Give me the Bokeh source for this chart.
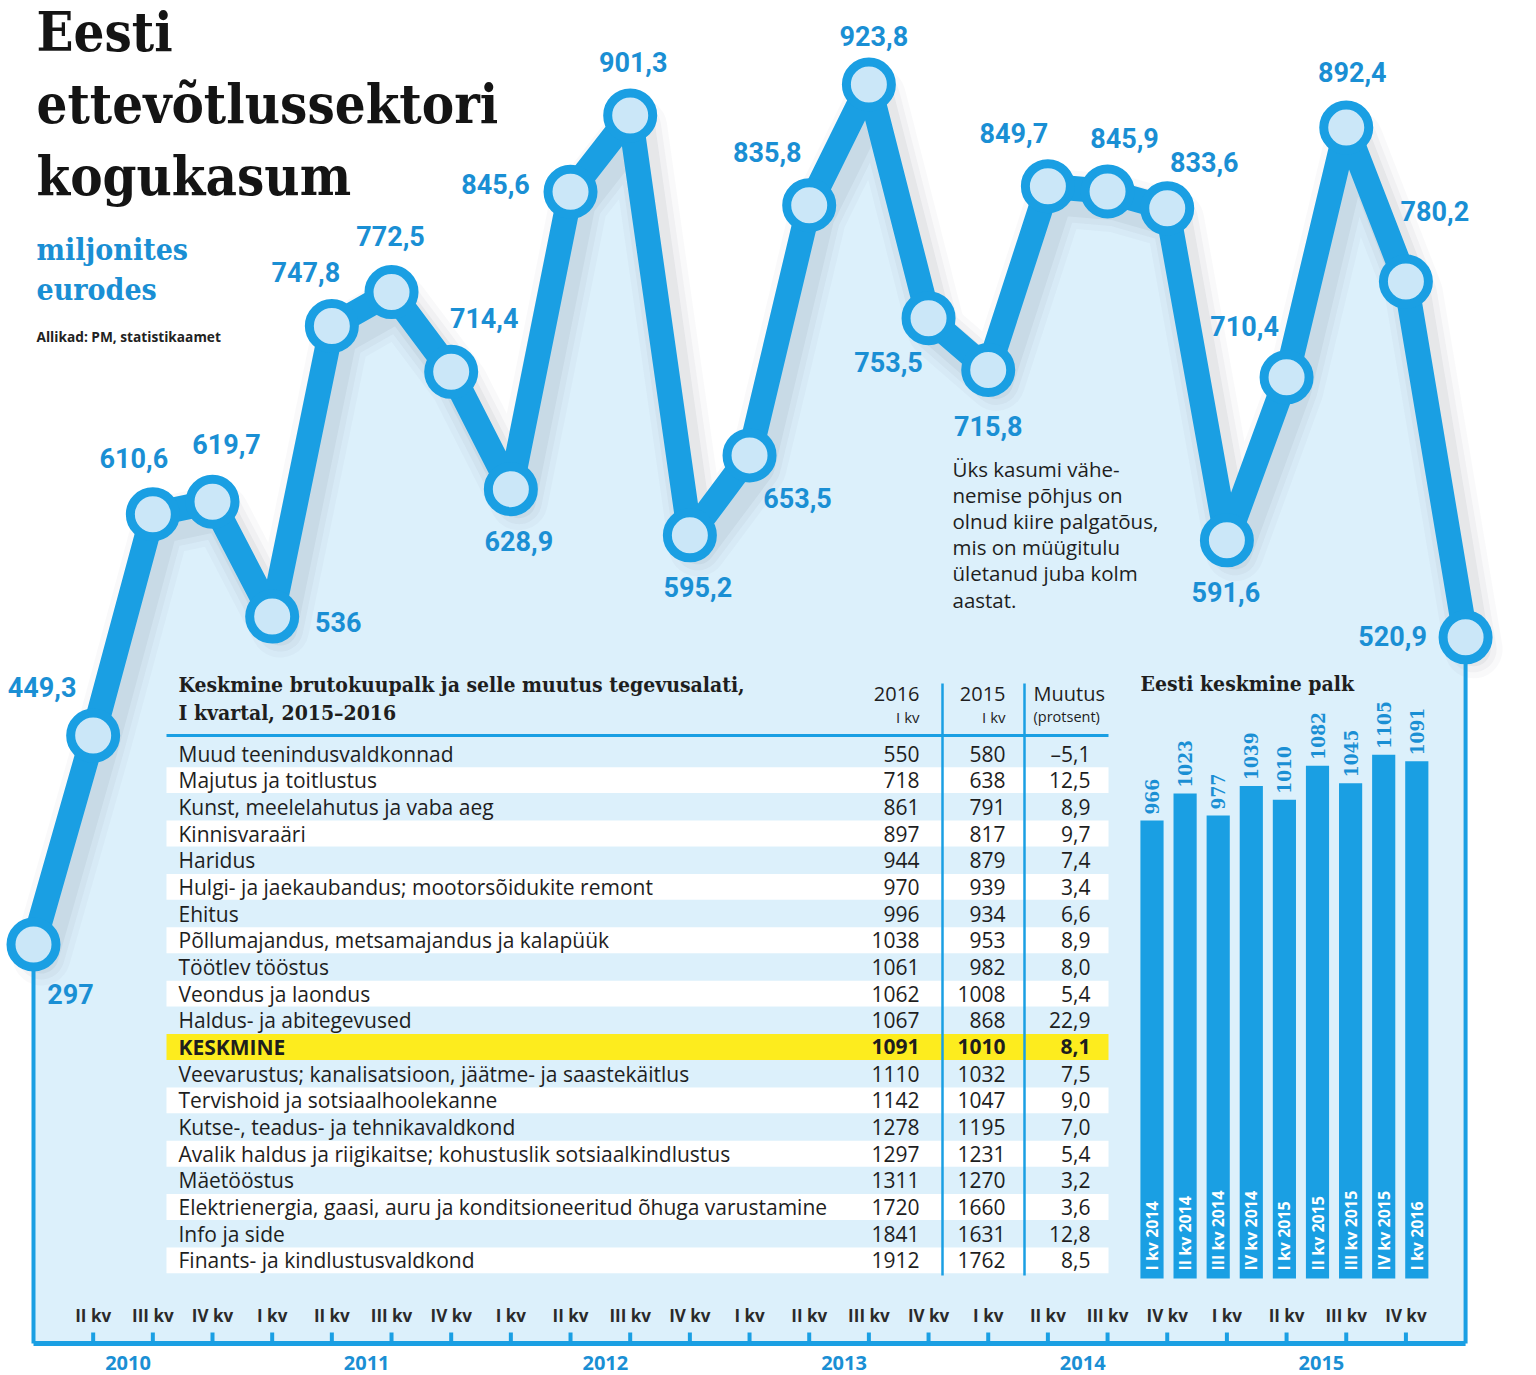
import math
from bokeh.plotting import figure
from bokeh.models import Range1d, ColumnDataSource
from bokeh.core.properties import value
from bokeh.embed import file_html
from bokeh.resources import INLINE

# ---------------- data ----------------
quarter_names = ["I kv", "II kv", "III kv", "IV kv"]
years = ["2010", "2011", "2012", "2013", "2014", "2015"]
profit = [297, 449.3, 610.6, 619.7, 536, 747.8, 772.5, 714.4, 628.9, 845.6,
          901.3, 595.2, 653.5, 835.8, 923.8, 753.5, 715.8, 849.7, 845.9, 833.6,
          591.6, 710.4, 892.4, 780.2, 520.9]

sectors = ["Muud teenindusvaldkonnad", "Majutus ja toitlustus",
           "Kunst, meelelahutus ja vaba aeg", "Kinnisvaraäri", "Haridus",
           "Hulgi- ja jaekaubandus; mootorsõidukite  remont", "Ehitus",
           "Põllumajandus, metsamajandus ja kalapüük", "Töötlev tööstus",
           "Veondus ja laondus", "Haldus- ja abitegevused", "KESKMINE",
           "Veevarustus; kanalisatsioon, jäätme- ja saastekäitlus",
           "Tervishoid ja sotsiaalhoolekanne", "Kutse-, teadus- ja tehnikavaldkond",
           "Avalik haldus ja riigikaitse; kohustuslik sotsiaalkindlustus",
           "Mäetööstus",
           "Elektrienergia, gaasi, auru ja konditsioneeritud õhuga varustamine",
           "Info ja side", "Finants- ja kindlustusvaldkond"]
wage_2016 = [550, 718, 861, 897, 944, 970, 996, 1038, 1061, 1062, 1067, 1091,
             1110, 1142, 1278, 1297, 1311, 1720, 1841, 1912]
wage_2015 = [580, 638, 791, 817, 879, 939, 934, 953, 982, 1008, 868, 1010,
             1032, 1047, 1195, 1231, 1270, 1660, 1631, 1762]
change_pct = [-5.1, 12.5, 8.9, 9.7, 7.4, 3.4, 6.6, 8.9, 8.0, 5.4, 22.9, 8.1,
              7.5, 9.0, 7.0, 5.4, 3.2, 3.6, 12.8, 8.5]

bar_quarters = ["I kv 2014", "II kv 2014", "III kv 2014", "IV kv 2014",
                "I kv 2015", "II kv 2015", "III kv 2015", "IV kv 2015",
                "I kv 2016"]
avg_wage = [966, 1023, 977, 1039, 1010, 1082, 1045, 1105, 1091]

# ---------------- styling / layout constants ----------------
W, H = 1536, 1375
OFF = 0
BLUE = "#1a9fe3"
LABEL_BLUE = "#1a8fd4"
AREA = "#dcf0fb"
MARKER_FILL = "#cbe7f8"
DARK = "#1e1e1e"

X0, DX = 33.0, 59.67          # screen x of first quarter and spacing
Y0, KY = 944.0, 1.372          # screen y of value 297 and px per unit
V0 = 297.0
def xr(px):
    return (px - X0) / DX
def yr(py):
    return V0 + (Y0 - py) / KY

BASE = yr(1343)                # axis baseline value

# label offsets (screen px) for each profit label
lab_dx = [37, -51, -19, 14, 66, -26, -1, 33, 8, -75, 3, 8, 48, -42, 5, -40, 0,
          -34, 17, 37, -1, -42, 6, 29, -73]
lab_dy = [49, -49, -56, -58, 5, -54, -56, -54, 52, -8, -53, 52, 43, -53, -49,
          44, 56, -53, -53, -46, 52, -51, -56, -71, -1]

p = figure(width=W, height=H, output_backend="svg", toolbar_location=None,
           x_range=Range1d(xr(OFF), xr(OFF + W)), y_range=Range1d(yr(OFF + H), yr(OFF)),
           x_axis_type=None, y_axis_type=None, min_border=0)
p.grid.visible = False
p.outline_line_color = None
p.background_fill_color = "white"
p.border_fill_color = "white"

# screen-like ranges for layout text, table rows, bar chart
ROW0, ROWH = 753.0, 26.68
BX0, BDX = 1151.5, 33.1
BZ, BK = 1278.0, 0.474
p.extra_x_ranges = {
    "px": Range1d(OFF, OFF + W),
    "bx": Range1d((OFF - BX0) / BDX, (OFF + W - BX0) / BDX),
}
p.extra_y_ranges = {
    "py": Range1d(OFF + H, OFF),
    "tbl": Range1d((OFF + H - ROW0) / ROWH, (OFF - ROW0) / ROWH),
    "by": Range1d((BZ - (OFF + H)) / BK, (BZ - OFF) / BK),
}

idx = list(range(len(profit)))

# area under the line
p.varea(x=idx, y1=[BASE] * len(idx), y2=profit, fill_color=AREA)

# drop shadow of the line
sdx, sdy = 8 / DX, 12 / KY
for w, a in [(58, 0.04), (46, 0.05), (34, 0.07)]:
    p.line([i + sdx for i in idx], [v - sdy for v in profit], line_width=w,
           line_color="#5a6a78", line_alpha=a, line_join="round", line_cap="round")

# ---------------- table ----------------
rows = list(range(len(sectors)))
white_rows = [r for r in rows if r % 2 == 1 and sectors[r] != "KESKMINE"]
p.rect(x=[637] * len(white_rows), y=white_rows, width=942, height=0.97,
       x_range_name="px", y_range_name="tbl", fill_color="white", line_color=None)
hl = [r for r in rows if sectors[r] == "KESKMINE"]
p.rect(x=[637] * len(hl), y=hl, width=942, height=0.97,
       x_range_name="px", y_range_name="tbl", fill_color="#fdec1e", line_color=None)

# header line & column lines
p.segment(x0=[166], y0=[735], x1=[1108], y1=[735], x_range_name="px",
          y_range_name="py", line_color=BLUE, line_width=3)
p.segment(x0=[942, 1024], y0=[683, 683], x1=[942, 1024], y1=[1275, 1275],
          x_range_name="px", y_range_name="py", line_color=BLUE, line_width=2.5)

BODY = value("Open Sans")
SERIF = value("DejaVu Serif Condensed, DejaVu Serif")

def fmt_pct(c):
    return f"{c:.1f}".replace(".", ",").replace("-", "–")

normal = [r for r in rows if sectors[r] != "KESKMINE"]
def table_source(sel):
    return ColumnDataSource(dict(
        r=sel,
        name=[sectors[r] for r in sel],
        a=[str(wage_2016[r]) for r in sel],
        b=[str(wage_2015[r]) for r in sel],
        c=[fmt_pct(change_pct[r]) for r in sel],
    ))
for src, style in [(table_source(normal), "normal"), (table_source(hl), "bold")]:
    common = dict(source=src, y="r", x_range_name="px", y_range_name="tbl",
                  text_font=BODY, text_font_size="21px", text_color=DARK,
                  text_baseline="middle", text_font_style=style)
    p.text(x=178, text="name", text_align="left", **common)
    p.text(x=919, text="a", text_align="right", **common)
    p.text(x=1005, text="b", text_align="right", **common)
    p.text(x=1090, text="c", text_align="right", **common)

# free texts (y = visual centre line in screen px)
def ptext(x, y, t, size, font=BODY, style="normal", color=DARK, align="left"):
    p.text(x=[x], y=[y], text=[t], x_range_name="px", y_range_name="py",
           text_font=font, text_font_size=size, text_font_style=style,
           text_color=color, text_align=align, text_baseline="middle")

ptext(178, 684, "Keskmine brutokuupalk ja selle muutus tegevusalati,", "21px",
      font=SERIF, style="bold")
ptext(178, 712, "I kvartal, 2015–2016", "21px", font=SERIF, style="bold")
ptext(919, 693, "2016", "20px", align="right")
ptext(919, 716, "I kv", "15px", align="right")
ptext(1005, 693, "2015", "20px", align="right")
ptext(1005, 716, "I kv", "15px", align="right")
ptext(1033, 693, "Muutus", "20px")
ptext(1033, 716, "(protsent)", "14.5px")

# ---------------- bar chart ----------------
bidx = list(range(len(avg_wage)))
bsrc = ColumnDataSource(dict(x=bidx, top=avg_wage,
                             lab=[str(v) for v in avg_wage], q=bar_quarters,
                             zero=[0] * len(bidx)))
p.vbar(x="x", top="top", bottom=0, width=0.7, source=bsrc, x_range_name="bx",
       y_range_name="by", fill_color=BLUE, line_color=None)
p.text(x="x", y="top", text="lab", source=bsrc, x_range_name="bx",
       y_range_name="by", angle=math.pi / 2, y_offset=-6, text_align="left",
       text_baseline="middle", text_font=SERIF, text_font_style="bold",
       text_font_size="19px", text_color=LABEL_BLUE)
p.text(x="x", y="zero", text="q", source=bsrc, x_range_name="bx",
       y_range_name="by", angle=math.pi / 2, y_offset=-8, text_align="left",
       text_baseline="middle", text_font=BODY, text_font_style="bold",
       text_font_size="16px", text_color="white")
ptext(1140, 683, "Eesti keskmine palk", "21px", font=SERIF, style="bold")

# ---------------- frame of area, axis, ticks ----------------
n = len(profit)
p.line([0, 0], [profit[0], BASE], line_color=BLUE, line_width=4)
p.line([n - 1, n - 1], [profit[-1], BASE], line_color=BLUE, line_width=4)
p.line([0, n - 1], [BASE, BASE], line_color=BLUE, line_width=5)
tick_i = list(range(1, n - 1))
p.segment(x0=tick_i, y0=[BASE] * len(tick_i), x1=tick_i,
          y1=[BASE + 11 / KY] * len(tick_i), line_color=BLUE, line_width=4)

qlabels = [quarter_names[i % 4] for i in tick_i]
p.text(x=tick_i, y=[BASE] * len(tick_i), text=qlabels, y_offset=-28,
       text_align="center", text_baseline="middle", text_font=BODY,
       text_font_style="bold", text_font_size="17px", text_color="#2a2a2a")
year_x = [4 * k + 1.5 for k in range(len(years))]
p.text(x=year_x, y=[BASE] * len(years), text=years, x_offset=5, y_offset=19,
       text_align="center", text_baseline="middle", text_font=BODY,
       text_font_size="20px", text_font_style="bold", text_color=LABEL_BLUE)

# ---------------- main line ----------------
p.line(idx, profit, line_color=BLUE, line_width=25, line_join="round",
       line_cap="round")
p.scatter(idx, profit, size=45, fill_color=MARKER_FILL, line_color=BLUE,
          line_width=9)

lsrc = ColumnDataSource(dict(
    x=idx, y=profit,
    t=[f"{v:g}".replace(".", ",") for v in profit],
    dx=lab_dx, dy=lab_dy))
p.text(x="x", y="y", text="t", x_offset="dx", y_offset="dy", source=lsrc,
       text_align="center", text_baseline="middle", text_font=value("Roboto"),
       text_font_style="bold", text_font_size="27px", text_color=LABEL_BLUE)

# ---------------- titles & notes ----------------
TITLE = "#141414"
ptext(36, 31, "Eesti", "54px", font=SERIF, style="bold", color=TITLE)
ptext(36, 103, "ettevõtlussektori", "54px", font=SERIF, style="bold", color=TITLE)
ptext(36, 175, "kogukasum", "54px", font=SERIF, style="bold", color=TITLE)
ptext(36, 249, "miljonites", "30px", font=SERIF, style="bold", color=LABEL_BLUE)
ptext(36, 289, "eurodes", "30px", font=SERIF, style="bold", color=LABEL_BLUE)
ptext(36, 336, "Allikad: PM, statistikaamet", "13.7px", style="bold", color="#222")

note = ["Üks kasumi vähe-", "nemise põhjus on", "olnud kiire palgatõus,",
        "mis on müügitulu", "ületanud juba kolm", "aastat."]
for k, line in enumerate(note):
    ptext(952, 468 + 26.2 * k, line, "20.5px", color=DARK)

open("out.html", "w").write(file_html(p, INLINE))
